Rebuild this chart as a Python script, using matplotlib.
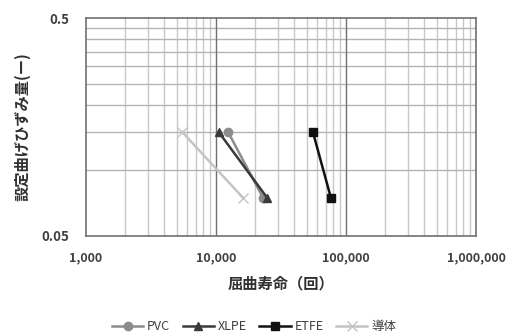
import numpy as np
import matplotlib.pyplot as plt
from matplotlib.ticker import FixedLocator, NullFormatter

plt.rcParams['font.family'] = ['Noto Sans CJK JP', 'DejaVu Sans']

# data
pvc_life = [12400, 23000]
pvc_strain = [0.15, 0.075]
xlpe_life = [10500, 24700]
xlpe_strain = [0.15, 0.075]
etfe_life = [55700, 76500]
etfe_strain = [0.15, 0.075]
cond_life = [5500, 16100]
cond_strain = [0.15, 0.075]

x_ticks = [1000, 10000, 100000, 1000000]
x_labels = ['1,000', '10,000', '100,000', '1,000,000']
y_ticks = [0.05, 0.5]
y_labels = ['0.05', '0.5']

fig = plt.figure(figsize=(5.08, 3.36), dpi=100)
ax = fig.add_axes([0.169, 0.298, 0.768, 0.648])

ax.set_xscale('log')
ax.set_yscale('log')
ax.set_xlim(1000, 1000000)
ax.set_ylim(0.05, 0.5)

# excel-style grid
x_minor = [m * 10 ** e for e in range(3, 6) for m in range(2, 10)]
y_minor = [0.05 * m for m in range(2, 10)]
for v in x_minor:
    ax.axvline(v, color='#c8c8c8', lw=1.0, zorder=0)
for v in y_minor:
    ax.axhline(v, color='#b4b4b4', lw=1.0, zorder=0)
for v in x_ticks[1:-1]:
    ax.axvline(v, color='#707070', lw=1.0, zorder=0)

ax.plot(pvc_life, pvc_strain, color='#8c8c8c', marker='o', ms=6, lw=1.8, label='PVC', zorder=3)
ax.plot(xlpe_life, xlpe_strain, color='#3a3a3a', marker='^', ms=6, lw=1.8, label='XLPE', zorder=3)
ax.plot(etfe_life, etfe_strain, color='#111111', marker='s', ms=6, lw=1.8, label='ETFE', zorder=3)
ax.plot(cond_life, cond_strain, color='#c4c4c4', marker='x', ms=7, lw=1.8, label='導体', zorder=2)

ax.xaxis.set_major_locator(FixedLocator(x_ticks))
ax.set_xticklabels(x_labels)
ax.xaxis.set_minor_formatter(NullFormatter())
ax.yaxis.set_major_locator(FixedLocator(y_ticks))
ax.set_yticklabels(y_labels)
ax.yaxis.set_minor_formatter(NullFormatter())
ax.tick_params(which='both', length=0)
ax.tick_params(axis='x', pad=11, labelsize=9, labelcolor='#404040')
ax.tick_params(axis='y', pad=12, labelsize=9.5, labelcolor='#404040')
for lab in ax.get_xticklabels() + ax.get_yticklabels():
    lab.set_fontweight('bold')
ax.get_xticklabels()[-1].set_clip_on(False)

for s in ax.spines.values():
    s.set_color('#707070')
    s.set_linewidth(1.2)

ax.set_xlabel('屈曲寿命（回）', fontsize=11, color='#303030', fontweight='bold', labelpad=8)
ax.set_ylabel('設定曲げひずみ量(ー)', fontsize=11, color='#303030', fontweight='bold', labelpad=8)

fig.legend(loc='lower center', bbox_to_anchor=(0.5, -0.025), ncol=4, frameon=False,
           fontsize=9, handlelength=2.5, columnspacing=1.0, handletextpad=0.3,
           labelcolor='#404040')

fig.savefig('out.png', dpi=100)
